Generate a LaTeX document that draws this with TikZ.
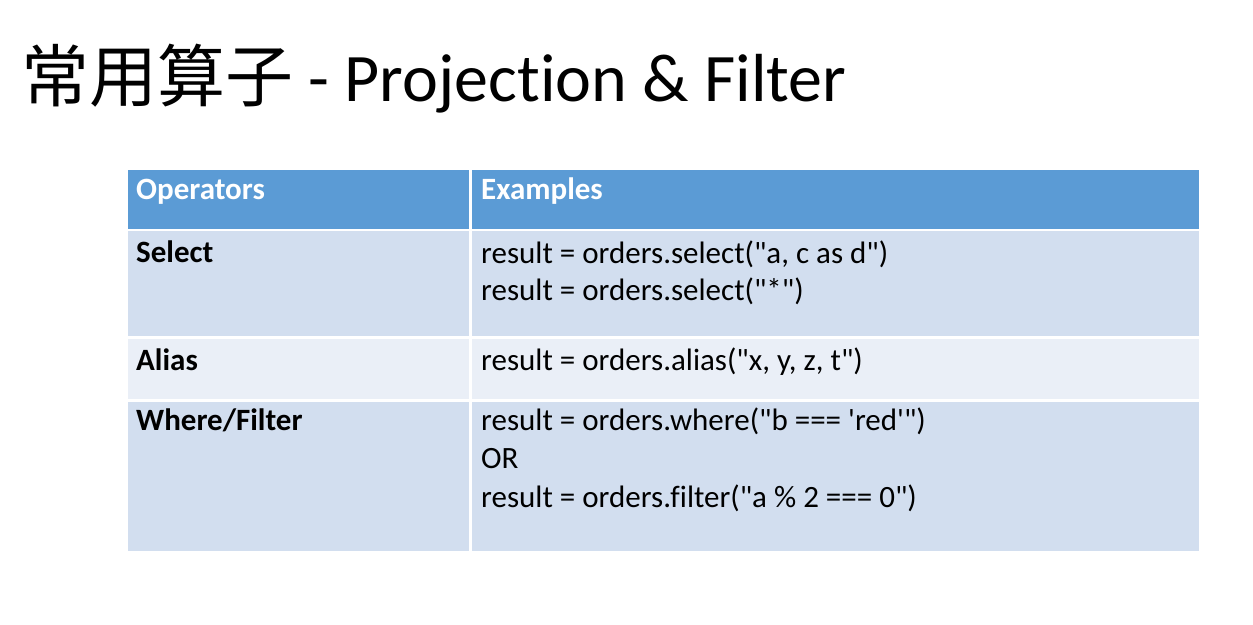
\documentclass[tikz,border=0pt]{standalone}
\usepackage{fontspec}
\newfontfamily\bodyfont{Carlito}[Ligatures=NoCommon]
\newfontfamily\cjkfont{Noto Sans CJK SC}
\usetikzlibrary{positioning}
\definecolor{headblue}{HTML}{5B9BD5}
\definecolor{rowdark}{HTML}{D2DEEF}
\definecolor{rowlight}{HTML}{EAEFF7}

\begin{document}
\begin{tikzpicture}[x=1pt,y=-1pt,
    cell/.style={draw=white,line width=2.5pt,inner sep=0pt,anchor=north west},
    celltext/.style={anchor=base west,inner sep=0pt,font=\bodyfont\fontsize{31}{36}\selectfont},
    boldtext/.style={celltext,font=\bodyfont\fontsize{31}{36}\selectfont\bfseries},
    headtext/.style={boldtext,text=white}]
  \useasboundingbox (0,0) rectangle (1253,624);

  % title
  \node[anchor=base west,inner sep=0pt,font=\bodyfont\fontsize{68}{72}\selectfont] (title) at (21,101)
    {{\cjkfont 常用算子} - Projection \& Filter};

  % table cells
  \node[cell,fill=headblue,minimum width=344pt,minimum height=61.5pt] (ophead) at (125,167) {};
  \node[cell,fill=headblue,minimum width=730pt,minimum height=61.5pt] (exhead) at (469,167) {};
  \node[cell,fill=rowdark,minimum width=344pt,minimum height=107.5pt] (selop) at (125,228.5) {};
  \node[cell,fill=rowdark,minimum width=730pt,minimum height=107.5pt] (selex) at (469,228.5) {};
  \node[cell,fill=rowlight,minimum width=344pt,minimum height=63pt] (aliasop) at (125,336) {};
  \node[cell,fill=rowlight,minimum width=730pt,minimum height=63pt] (aliasex) at (469,336) {};
  \node[cell,fill=rowdark,minimum width=344pt,minimum height=152pt] (whereop) at (125,399) {};
  \node[cell,fill=rowdark,minimum width=730pt,minimum height=152pt] (whereex) at (469,399) {};

  % header
  \node[headtext] (optxt) at (136,199) {Operators};
  \node[headtext] (extxt) at (481,199) {Examples};

  % rows
  \node[boldtext] (seltxt) at (136,262) {Select};
  \node[celltext] (sela) at (481,263) {result = orders.select("a, c as d")};
  \node[celltext] (selb) at (481,300) {result = orders.select("*")};

  \node[boldtext] (aliastxt) at (136,370) {Alias};
  \node[celltext] (aliasa) at (481,370) {result = orders.alias("x, y, z, t")};

  \node[boldtext] (wheretxt) at (136,430) {Where/Filter};
  \node[celltext] (wherea) at (481,430) {result = orders.where("b === 'red'")};
  \node[celltext] (whereb) at (481,468) {OR};
  \node[celltext] (wherec) at (481,507) {result = orders.filter("a \% 2 === 0")};
\end{tikzpicture}
\end{document}
